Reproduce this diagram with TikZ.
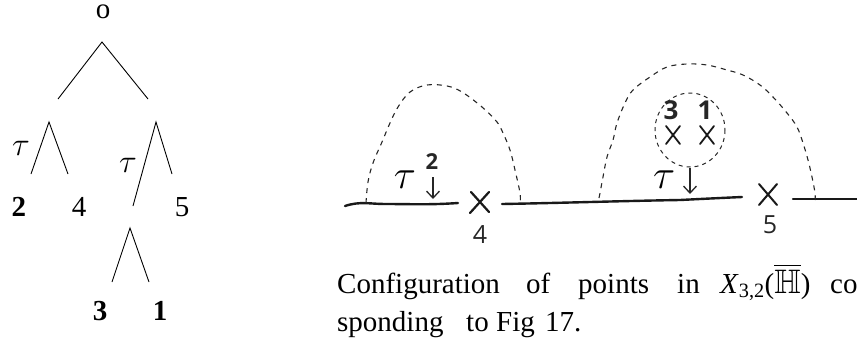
\RequirePackage{fix-cm}
\documentclass[tikz,border=0pt]{standalone}
\usepackage{amsmath,amssymb}
\usepackage{graphicx}
\usepackage{fontspec}
\setmainfont{Liberation Serif}
\newfontfamily\hand{Open Sans}
\usetikzlibrary{arrows.meta,calc}
\tikzset{
  tl/.style={anchor=base,inner sep=0pt,font=\fontsize{29}{29}\selectfont},
  tlb/.style={tl,font=\fontsize{29}{29}\selectfont\bfseries},
  edge/.style={line width=0.9pt},
  hl/.style={anchor=base,inner sep=0pt,font=\hand\fontsize{25}{25}\selectfont,text=black!85},
  hlb/.style={hl,font=\hand\fontsize{22}{22}\selectfont\bfseries},
  ink/.style={line width=2.4pt,line cap=round,black!90},
  dsh/.style={line width=1.1pt,dash pattern=on 5pt off 5pt,black!85},
  cross/.style={line width=2.2pt,line cap=round,black!90},
  captxt/.style={anchor=base west,inner sep=0pt,font=\fontsize{29}{29}\selectfont},
  tarrow/.style={line width=1.3pt,black!85,-{Straight Barb[length=7pt,width=13pt]}}
}
\begin{document}
\begin{tikzpicture}[x=1pt,y=-1pt]
\useasboundingbox (0,0) rectangle (857,338);
\clip (0,0) rectangle (857,338);
% ---- tree ----
\node[tl,text height=13pt,text depth=0pt] (o) at (103,18) {o};
\coordinate (r) at (102,42);
\coordinate (rl) at (58,99);
\coordinate (rr) at (148,99);
\draw[edge] (rl) -- (r) -- (rr);
\coordinate (a) at (49,122);
\coordinate (al) at (31,174);
\coordinate (ar) at (68,174);
\draw[edge] (al) -- (a) -- (ar);
\coordinate (b) at (156,122);
\coordinate (bl) at (133,206);
\coordinate (br) at (172,174);
\draw[edge] (bl) -- (b) -- (br);
\coordinate (c) at (130,228);
\coordinate (cl) at (112,282);
\coordinate (cr) at (149,282);
\draw[edge] (cl) -- (c) -- (cr);
\node[tl] (t1) at (21,155) {\fontsize{33}{33}\selectfont$\tau$};
\node[tl] (t2) at (128,172) {\fontsize{33}{33}\selectfont$\tau$};
\node[tlb] (n2) at (19,216) {2};
\node[tl] (n4) at (79,216) {4};
\node[tl] (n5) at (182,216) {5};
\node[tlb] (n3) at (100,320) {3};
\node[tlb] (n1) at (160,320) {1};
% ---- hand drawing ----
\draw[ink] (345,206) .. controls (360,201) and (370,204) .. (385,204) .. controls (410,204) and (430,205) .. (458,203);
\draw[ink] (502,204) .. controls (560,203) and (620,201) .. (680,200) .. controls (700,199) and (720,198) .. (742,197);
\draw[ink] (793,199) -- (857,199);
\coordinate (x4) at (480,202);
\draw[cross] ($(x4)+(-9,-10)$) -- ($(x4)+(9,10)$) ($(x4)+(9,-10)$) -- ($(x4)+(-10,11)$);
\coordinate (x5) at (768,195);
\draw[cross,line width=2pt] ($(x5)+(-9,-11)$) -- ($(x5)+(9,10)$) ($(x5)+(9,-11)$) -- ($(x5)+(-9,10)$);
\coordinate (x3) at (673,135);
\coordinate (x1) at (707,135);
\draw[cross,line width=1.8pt] ($(x3)+(-7,-9)$) -- ($(x3)+(7,9)$) ($(x3)+(7,-9)$) -- ($(x3)+(-7,9)$);
\draw[cross,line width=1.8pt] ($(x1)+(-7,-9)$) -- ($(x1)+(7,9)$) ($(x1)+(7,-9)$) -- ($(x1)+(-7,9)$);
\draw[dsh] plot[smooth,tension=0.6] coordinates {(366,203) (368,182) (373,163) (382,142) (390,123) (398,107) (410,92) (427,85) (447,86) (462,92) (482,107) (497,122) (503,133) (510,150) (515,170) (520,193) (520,203)};
\draw[dsh] plot[smooth,tension=0.6] coordinates {(599,198) (600,193) (603,177) (607,157) (613,140) (617,123) (625,103) (633,90) (650,77) (667,67) (687,64) (707,65) (727,70) (743,75) (760,85) (773,97) (787,113) (797,127) (803,143) (808,160) (812,177) (815,193) (815,200)};
\draw[dsh,line width=1pt,dash pattern=on 4pt off 4pt] (690,130) ellipse [x radius=35, y radius=37];
\coordinate (s1) at (433,177);
\coordinate (e1) at (433,199);
\draw[tarrow] (s1) -- (e1);
\coordinate (s2) at (690,168);
\coordinate (e2) at (690,194);
\draw[tarrow] (s2) -- (e2);
\node[hl] (h4) at (480,243) {4};
\node[hl] (h5) at (770,233) {5};
\node[hlb] (h2) at (432,169) {2};
\node[hlb,font=\hand\fontsize{26}{26}\selectfont\bfseries] (h3) at (671,119) {3};
\node[hlb,font=\hand\fontsize{26}{26}\selectfont\bfseries] (h1) at (705,119) {1};
\node[anchor=base,inner sep=0pt] (ht1) at (405,188) {\fontsize{41}{41}\selectfont$\tau$};
\node[anchor=base,inner sep=0pt] (ht2) at (664,188) {\fontsize{41}{41}\selectfont$\tau$};
% ---- caption ----
\node[captxt] (w1) at (337,293) {Configuration};
\node[captxt] (w2) at (526,293) {of};
\node[captxt] (w3) at (578,293) {points};
\node[captxt] (w4) at (677,293) {in};
\node[captxt] (w5) at (720,293) {\textit{X}\textsubscript{3,2}($\overline{\scalebox{1.17}{$\mathbb{H}$}}$)};
\node[captxt] (w6) at (830,293) {co};
\node[captxt] (l1) at (337,331) {sponding};
\node[captxt] (l2) at (466,331) {to};
\node[captxt] (l3) at (496,331) {Fig};
\node[captxt] (l4) at (545,331) {17.};
\end{tikzpicture}
\end{document}
